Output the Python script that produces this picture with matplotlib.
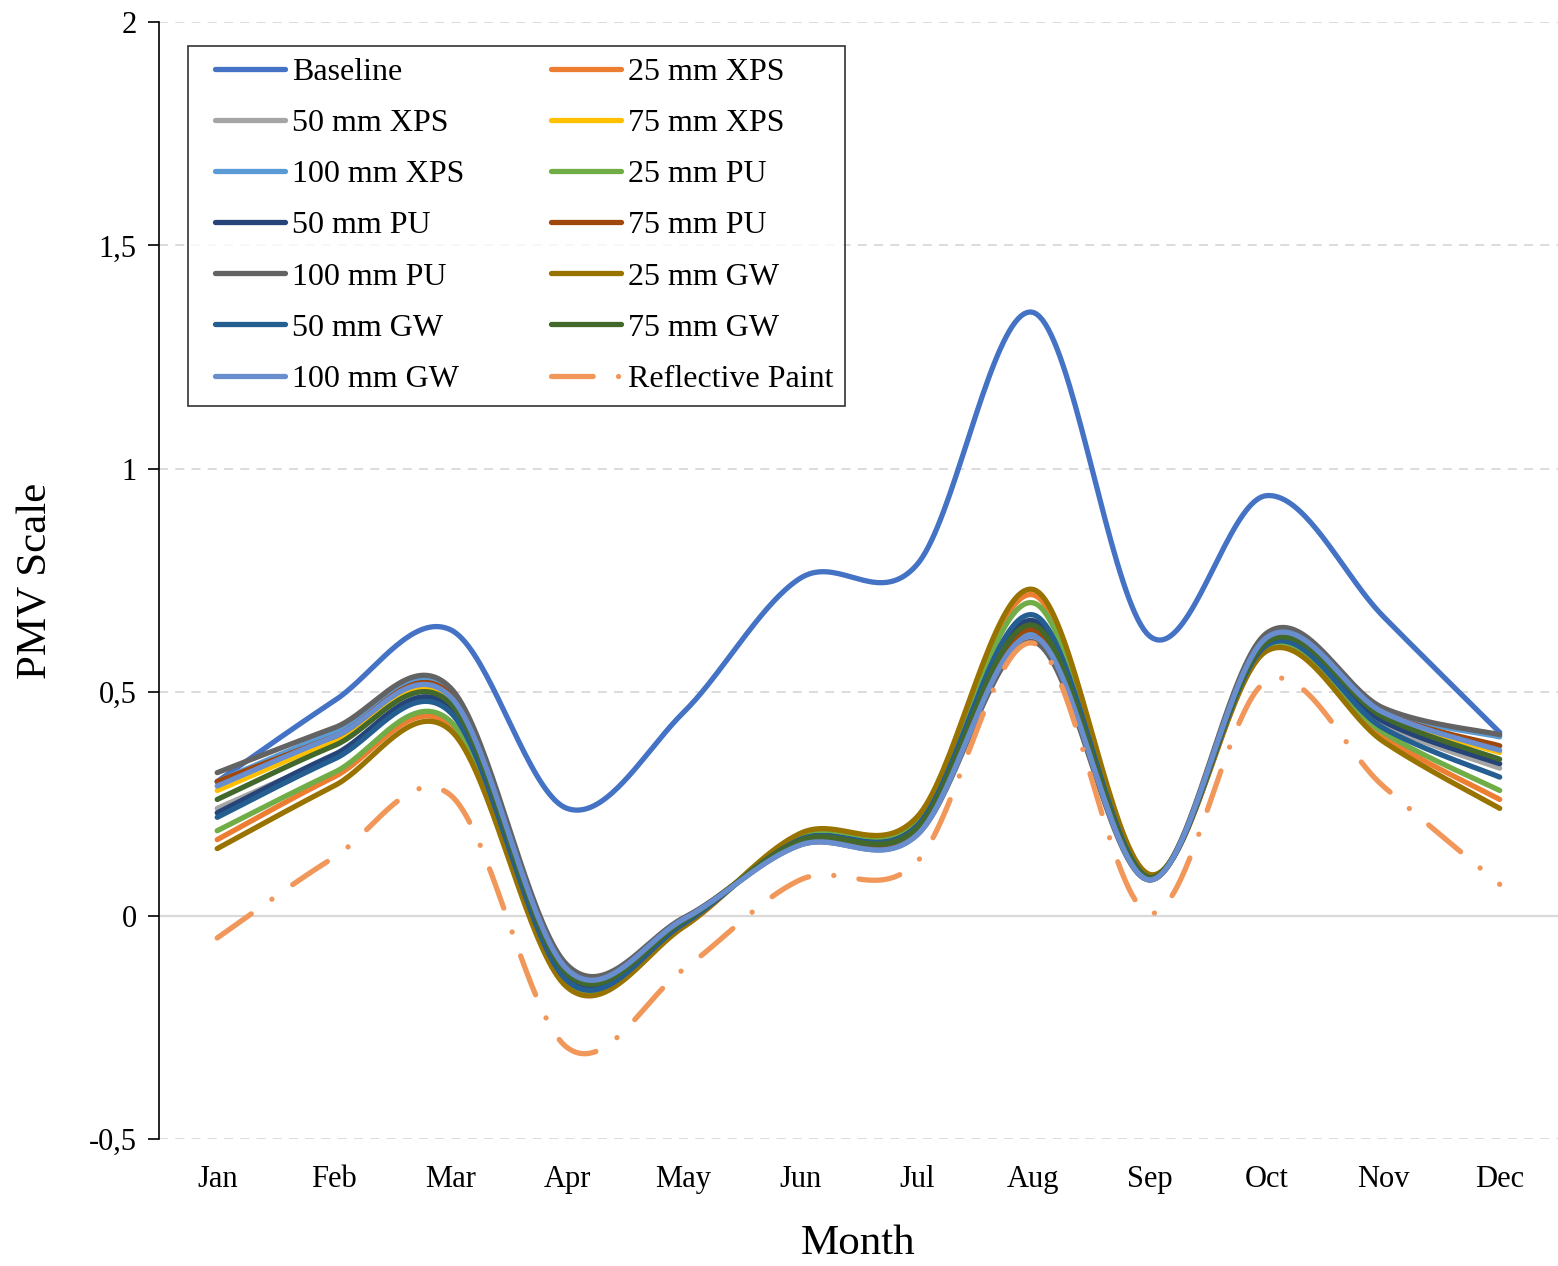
import numpy as np
import matplotlib.pyplot as plt
from matplotlib.lines import Line2D
from matplotlib.legend_handler import HandlerLine2D

plt.rcParams['font.family'] = ['Liberation Serif', 'DejaVu Serif']

months = ['Jan', 'Feb', 'Mar', 'Apr', 'May', 'Jun', 'Jul', 'Aug', 'Sep', 'Oct', 'Nov', 'Dec']

baseline = [0.30, 0.48, 0.64, 0.24, 0.455, 0.755, 0.785, 1.35, 0.625, 0.94, 0.67, 0.41]
xps25 = [0.17, 0.31, 0.425, -0.155, -0.025, 0.18, 0.215, 0.718, 0.09, 0.595, 0.40, 0.26]
xps50 = [0.24, 0.355, 0.465, -0.14, -0.015, 0.17, 0.195, 0.658, 0.085, 0.61, 0.43, 0.33]
xps75 = [0.28, 0.39, 0.48, -0.13, -0.01, 0.166, 0.19, 0.64, 0.085, 0.615, 0.45, 0.365]
xps100 = [0.30, 0.41, 0.50, -0.115, -0.008, 0.16, 0.185, 0.633, 0.08, 0.625, 0.46, 0.40]
pu25 = [0.19, 0.32, 0.435, -0.155, -0.022, 0.176, 0.21, 0.70, 0.09, 0.60, 0.41, 0.28]
pu50 = [0.23, 0.36, 0.465, -0.14, -0.015, 0.17, 0.20, 0.66, 0.085, 0.61, 0.435, 0.34]
pu75 = [0.30, 0.40, 0.495, -0.12, -0.008, 0.164, 0.19, 0.64, 0.08, 0.625, 0.455, 0.38]
pu100 = [0.32, 0.42, 0.51, -0.11, -0.005, 0.158, 0.18, 0.613, 0.08, 0.632, 0.465, 0.405]
gw25 = [0.15, 0.29, 0.415, -0.16, -0.025, 0.184, 0.22, 0.73, 0.092, 0.592, 0.39, 0.24]
gw50 = [0.22, 0.35, 0.455, -0.145, -0.018, 0.17, 0.20, 0.673, 0.085, 0.605, 0.42, 0.31]
gw75 = [0.26, 0.38, 0.475, -0.13, -0.012, 0.168, 0.195, 0.65, 0.085, 0.612, 0.445, 0.35]
gw100 = [0.29, 0.40, 0.49, -0.12, -0.008, 0.158, 0.18, 0.625, 0.08, 0.622, 0.455, 0.37]
reflective = [-0.05, 0.13, 0.27, -0.295, -0.12, 0.08, 0.12, 0.61, 0.005, 0.525, 0.29, 0.07]

series = [
    ('Baseline', baseline, '#4472C4'),
    ('25 mm XPS', xps25, '#ED7D31'),
    ('50 mm XPS', xps50, '#A5A5A5'),
    ('75 mm XPS', xps75, '#FFC000'),
    ('100 mm XPS', xps100, '#5B9BD5'),
    ('25 mm PU', pu25, '#70AD47'),
    ('50 mm PU', pu50, '#264478'),
    ('75 mm PU', pu75, '#9E480E'),
    ('100 mm PU', pu100, '#636363'),
    ('25 mm GW', gw25, '#997300'),
    ('50 mm GW', gw50, '#255E91'),
    ('75 mm GW', gw75, '#43682B'),
    ('100 mm GW', gw100, '#698ED0'),
]


def smooth(y, n=40):
    # Catmull-Rom style bezier through each point (like a spreadsheet "smoothed line")
    y = np.asarray(y, float)
    x = np.arange(len(y), dtype=float)
    px = np.concatenate([[x[0]], x, [x[-1]]])
    py = np.concatenate([[y[0]], y, [y[-1]]])
    t = np.linspace(0, 1, n)[:, None]
    out = []
    for i in range(len(y) - 1):
        p0 = np.array([px[i], py[i]])
        p1 = np.array([px[i + 1], py[i + 1]])
        p2 = np.array([px[i + 2], py[i + 2]])
        p3 = np.array([px[i + 3], py[i + 3]])
        c1 = p1 + (p2 - p0) / 6
        c2 = p2 - (p3 - p1) / 6
        seg = ((1 - t) ** 3) * p1 + 3 * ((1 - t) ** 2) * t * c1 + 3 * (1 - t) * t ** 2 * c2 + t ** 3 * p2
        out.append(seg if i == 0 else seg[1:])
    pts = np.vstack(out)
    return pts[:, 0], pts[:, 1]


class IndentedLine(HandlerLine2D):
    # legend line that starts a little to the right inside its handle box
    def create_artists(self, legend, orig_handle, xdescent, ydescent, width, height, fontsize, trans):
        s = 0.47 * fontsize
        return super().create_artists(legend, orig_handle, xdescent - s, ydescent,
                                      width - s, height, fontsize, trans)


fig = plt.figure(figsize=(15.58, 12.66), dpi=100)
ax = fig.add_axes([0.102, 0.1003, 0.898, 0.8823])

lw = 3.8
dashdot = (0, (7.9, 4.8, 0.01, 4.8))
handles = []
for name, vals, col in series:
    sx, sy = smooth(vals)
    ax.plot(sx, sy, color=col, lw=lw, solid_capstyle='round', zorder=3)
    handles.append(Line2D([], [], color=col, lw=lw, solid_capstyle='round', label=name))

sx, sy = smooth(reflective)
ax.plot(sx, sy, color='#F1975A', lw=lw, linestyle=dashdot, dash_capstyle='round', zorder=3)
handles.append(Line2D([], [], color='#F1975A', lw=lw, linestyle=dashdot,
                      dash_capstyle='round', label='Reflective Paint'))

ax.set_xlim(-0.5, 11.5)
ax.set_ylim(-0.5, 2)
ax.set_yticks([-0.5, 0, 0.5, 1, 1.5, 2])
ax.set_yticklabels(['-0,5', '0', '0,5', '1', '1,5', '2'])
ax.set_xticks(range(len(months)))
ax.set_xticklabels(months)

for yv in [-0.5, 0.5, 1, 1.5, 2]:
    ax.axhline(yv, color='#D9D9D9', lw=1.3, ls=(0, (5, 4)), zorder=1)
ax.axhline(0, color='#D9D9D9', lw=1.6, zorder=1)

for s in ['top', 'right', 'bottom']:
    ax.spines[s].set_visible(False)
ax.spines['left'].set_color('#000000')
ax.spines['left'].set_linewidth(1.2)
ax.tick_params(axis='y', direction='out', length=8, width=1.2, labelsize=22, pad=8)
ax.tick_params(axis='x', length=0, labelsize=22, pad=19)

ax.set_xlabel('Month', fontsize=31, labelpad=22)
ax.set_ylabel('PMV Scale', fontsize=31, labelpad=24)

# legend is filled row by row
order = handles[0::2] + handles[1::2]
leg = ax.legend(handles=order, loc='upper left', bbox_to_anchor=(0.0207, 0.9785), ncol=2,
                fontsize=23, frameon=True, fancybox=False, edgecolor='black',
                handlelength=2.66, handletextpad=0.22, columnspacing=2.25,
                labelspacing=0.68, borderpad=0.37, borderaxespad=0,
                handler_map={Line2D: IndentedLine()})
leg.get_frame().set_linewidth(1.2)

fig.savefig('out.png', dpi=100, facecolor='white')
